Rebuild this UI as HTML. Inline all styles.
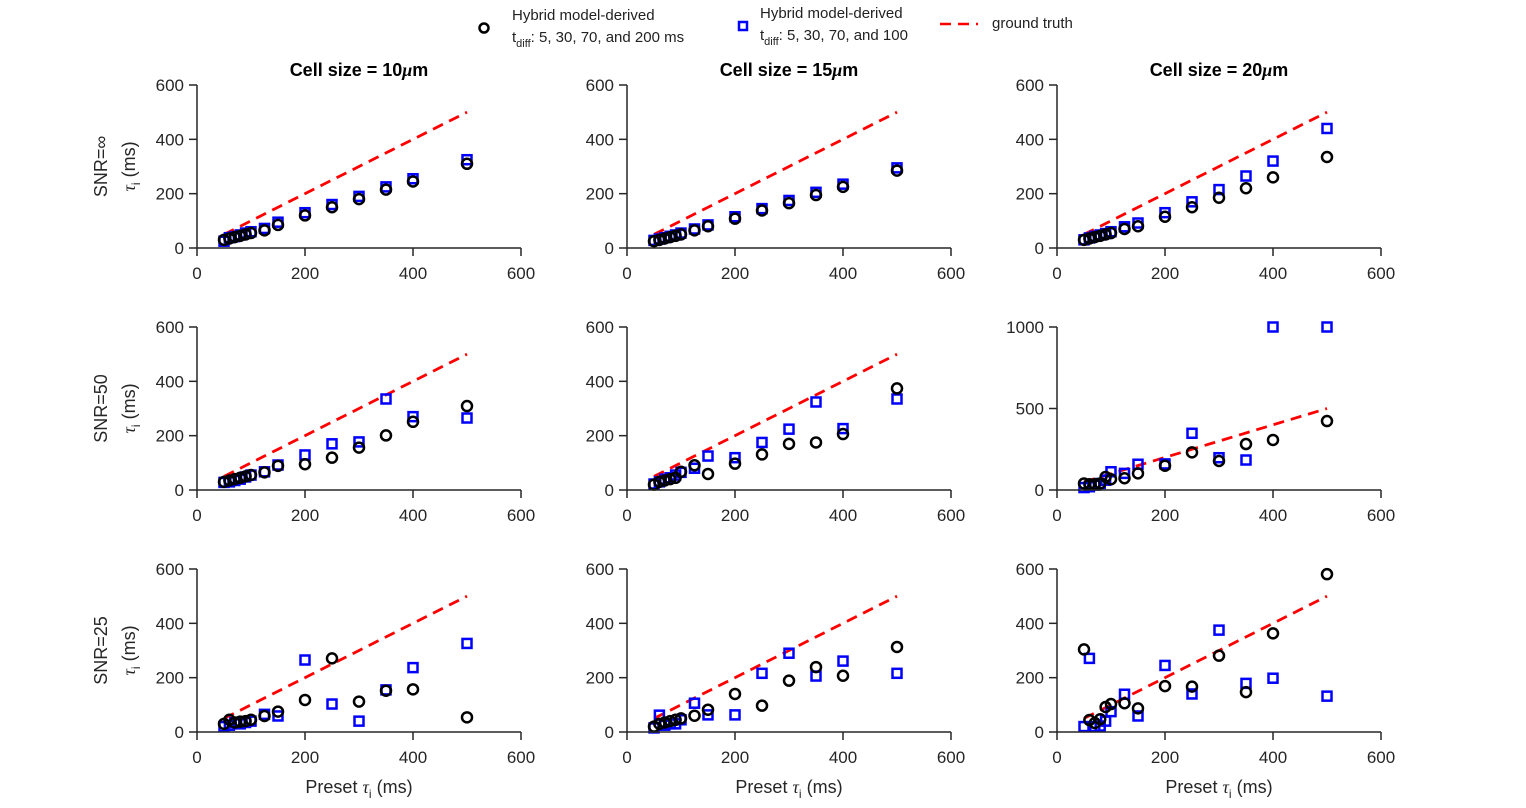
<!DOCTYPE html>
<html><head><meta charset="utf-8"><style>
html,body{margin:0;padding:0;background:#fff;width:1526px;height:808px;overflow:hidden}
svg{display:block;font-family:"Liberation Sans",sans-serif}
</style></head><body>
<svg id="fig" width="1526" height="808">
<g>
 <rect x="465" y="2" width="625" height="44" fill="#fff"/>
 <circle cx="484" cy="28" r="4.5" fill="none" stroke="#000" stroke-width="2.5"/>
 <text x="512" y="20" font-size="15" fill="#222">Hybrid model-derived</text>
 <text x="512" y="42" font-size="15" fill="#222">t<tspan font-size="11" dy="5">diff</tspan><tspan dy="-5">: 5, 30, 70, and 200 ms</tspan></text>
 <rect x="739" y="22" width="8" height="8" fill="none" stroke="#0000ff" stroke-width="2.5"/>
 <text x="760" y="18" font-size="15" fill="#222">Hybrid model-derived</text>
 <text x="760" y="40" font-size="15" fill="#222">t<tspan font-size="11" dy="5">diff</tspan><tspan dy="-5">: 5, 30, 70, and 100</tspan></text>
 <line x1="940" y1="24" x2="978" y2="24" stroke="#ff0000" stroke-width="2.5" stroke-dasharray="11,7"/>
 <text x="992" y="28" font-size="15" fill="#222">ground truth</text>
</g>
</svg>
<script>
const presetX=[50,60,70,80,90,100,125,150,200,250,300,350,400,500];
const blk00=[30,35,40,45,50,55,65,85,120,150,180,215,245,310];
const blu00=[25,38,42,48,55,60,72,95,130,160,190,225,255,325];
const blk01=[25,30,35,40,45,50,65,80,108,138,165,195,225,285];
const blu01=[28,33,38,43,48,55,70,85,115,145,175,205,235,295];
const blk02=[30,35,40,45,50,55,70,80,115,150,185,220,260,335];
const blu02=[30,37,43,48,53,60,78,92,130,170,215,265,320,440];
const blk10=[30,35,40,45,50,55,65,89,95,119,156,201,251,309];
const blu10=[28,30,35,40,48,55,67,92,129,170,177,335,270,265];
const blk11=[20,30,35,40,45,67,91,59,97,131,170,175,206,374];
const blu11=[22,30,40,45,55,65,80,125,119,175,224,324,226,335];
const blk12=[40,35,35,40,80,66,72,102,149,231,178,282,307,423];
const blu12=[15,20,30,40,60,112,102,158,160,348,198,184,1000,1000];
const blk20=[30,45,35,38,40,45,59,75,118,271,112,152,157,54];
const blu20=[20,25,35,30,35,40,65,59,265,103,40,155,237,326];
const blk21=[20,30,35,40,45,50,60,82,140,97,189,239,207,313];
const blu21=[15,62,25,30,30,45,106,63,63,216,290,206,261,216];
const blk22=[304,44,33,47,92,103,106,87,169,167,281,147,363,581];
const blu22=[20,271,20,22,40,75,139,59,245,140,375,179,198,132];
const xTicks=[0,200,400,600];
const yTicksStd=[0,200,400,600];
const yTicksBig=[0,500,1000];
const colTitles=["Cell size = 10","Cell size = 15","Cell size = 20"];
const rowLabels=["SNR=\u221e","SNR=50","SNR=25"];
const blkSets=[[blk00,blk01,blk02],[blk10,blk11,blk12],[blk20,blk21,blk22]];
const bluSets=[[blu00,blu01,blu02],[blu10,blu11,blu12],[blu20,blu21,blu22]];

const NS="http://www.w3.org/2000/svg";
const svg=document.getElementById('fig');
function mk(tag,attrs,parent){const e=document.createElementNS(NS,tag);for(const k in attrs)e.setAttribute(k,attrs[k]);(parent||svg).appendChild(e);return e;}
const colX0=[197,627,1057], rowY0=[248,490,732], W=324, H=163;
for(let r=0;r<3;r++){for(let c=0;c<3;c++){
  const g=mk('g',{});
  
  
  const big=(r===1&&c===2);
  const ymax=big?1000:600; const yT=big?yTicksBig:yTicksStd;
  const sx=v=>colX0[c]+v/600*W, sy=v=>rowY0[r]-v/ymax*H;
  const gt=mk('line',{x1:sx(50),y1:sy(50),x2:sx(500),y2:sy(500),stroke:'#ff0000','stroke-width':2.8,'stroke-dasharray':'11,7'},g);
  
  
  const bl=bluSets[r][c], bk=blkSets[r][c];
  presetX.forEach((x,i)=>{
    const s=mk('rect',{x:sx(x)-4.5,y:sy(bl[i])-4.5,width:9,height:9,fill:'none',stroke:'#0000ff','stroke-width':2.5},g);
    
    
  });
  presetX.forEach((x,i)=>{
    const o=mk('circle',{cx:sx(x),cy:sy(bk[i]),r:5,fill:'none',stroke:'#000','stroke-width':2.5},g);
    
    
  });
  const ax=mk('path',{d:`M${colX0[c]},${rowY0[r]-H}V${rowY0[r]}H${colX0[c]+W}`,fill:'none',stroke:'#262626','stroke-width':1.5},g);
  
  
  xTicks.forEach(t=>{
    mk('line',{x1:sx(t),y1:rowY0[r],x2:sx(t),y2:rowY0[r]+8,stroke:'#262626','stroke-width':1.5},g);
    const tx=mk('text',{x:sx(t),y:rowY0[r]+31,'font-size':17,'text-anchor':'middle',fill:'#262626'},g);
    tx.textContent=t;
    
    
  });
  yT.forEach(t=>{
    mk('line',{x1:colX0[c]-8,y1:sy(t),x2:colX0[c],y2:sy(t),stroke:'#262626','stroke-width':1.5},g);
    const ty=mk('text',{x:colX0[c]-13,y:sy(t)+6,'font-size':17,'text-anchor':'end',fill:'#262626'},g);
    ty.textContent=t;
    
    
  });
  if(r===0){
    const tt=mk('text',{x:colX0[c]+W/2,y:76,'font-size':18,'font-weight':'bold','text-anchor':'middle',fill:'#000'},g);
    tt.innerHTML=colTitles[c]+'<tspan font-style="italic" font-family="Liberation Serif">\u03bc</tspan>m';
    
    
  }
  if(r===2){
    const xl=mk('text',{x:colX0[c]+W/2,y:793,'font-size':18,'text-anchor':'middle',fill:'#262626'},g);
    xl.innerHTML='Preset <tspan font-style="italic" font-family="Liberation Serif">\u03c4</tspan><tspan font-size="12" dy="5">i</tspan><tspan dy="-5"> (ms)</tspan>';
    
    
  }
  if(c===0){
    const cy=rowY0[r]-H/2;
    const rl=mk('text',{x:0,y:0,'font-size':18,'text-anchor':'middle',fill:'#262626',transform:`translate(107,${cy}) rotate(-90)`},g);
    rl.textContent=rowLabels[r];
    
    
    const yl=mk('text',{x:0,y:0,'font-size':18,'text-anchor':'middle',fill:'#262626',transform:`translate(135,${cy}) rotate(-90)`},g);
    yl.innerHTML='<tspan font-style="italic" font-family="Liberation Serif">\u03c4</tspan><tspan font-size="12" dy="5">i</tspan><tspan dy="-5"> (ms)</tspan>';
    
    
  }
}}
</script>
</body></html>
